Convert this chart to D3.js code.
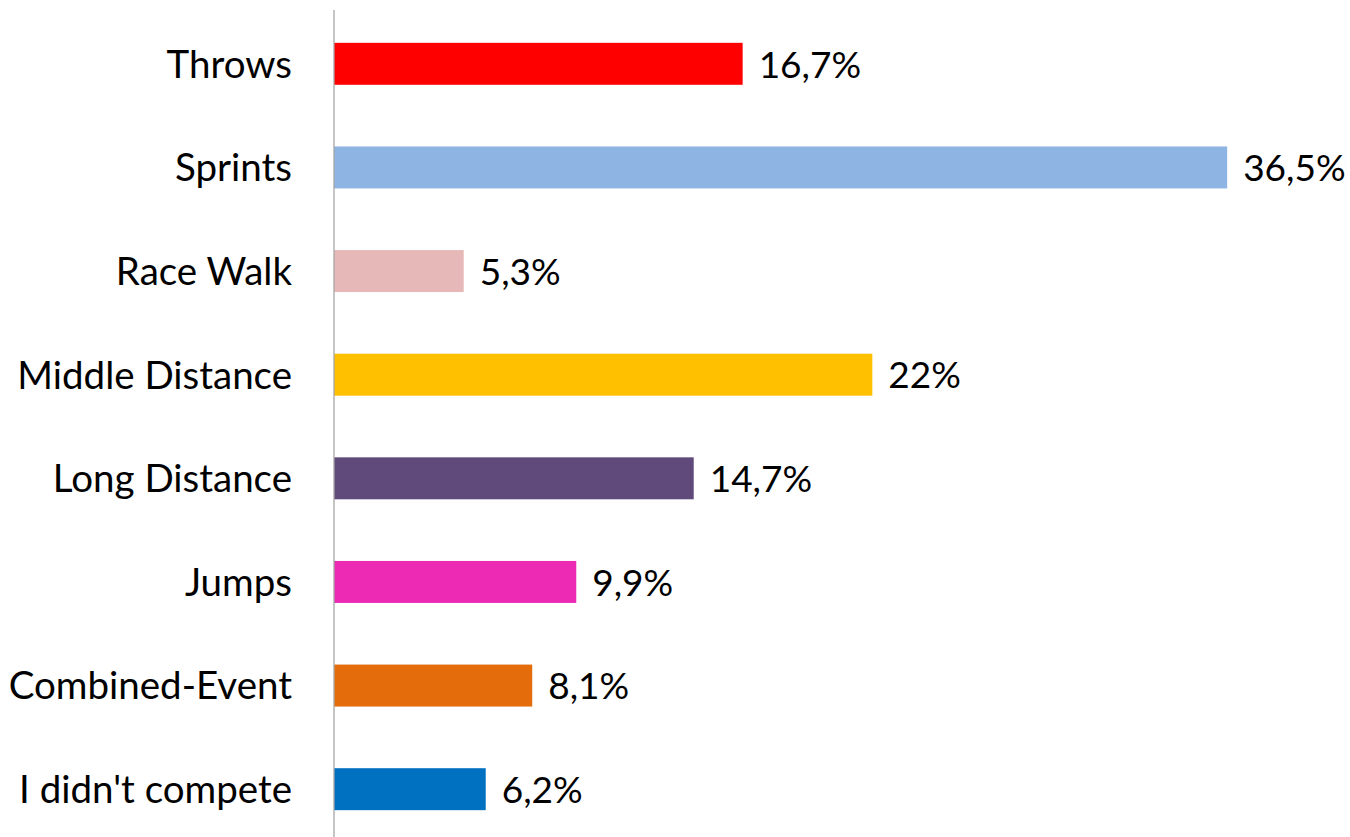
<!DOCTYPE html>
<html>
<head>
<meta charset="utf-8">
<script src="https://cdn.jsdelivr.net/npm/d3@7"></script>
<style>
  html, body { margin: 0; padding: 0; background: #fff; }
  svg { display: block; }
  text { font-family: Lato, "Open Sans", sans-serif; fill: #000; }
</style>
</head>
<body>
<svg id="chart" width="1350" height="837"></svg>
<script>
const categories = ["Throws", "Sprints", "Race Walk", "Middle Distance", "Long Distance", "Jumps", "Combined-Event", "I didn't compete"];
const values = [16.7, 36.5, 5.3, 22, 14.7, 9.9, 8.1, 6.2];
const valueLabels = ["16,7%", "36,5%", "5,3%", "22%", "14,7%", "9,9%", "8,1%", "6,2%"];
const colors = ["#FF0000", "#8EB4E3", "#E6B9B8", "#FFC000", "#604A7B", "#EC2AB4", "#E46C0A", "#0070C0"];

const data = categories.map((c, i) => ({ cat: c, value: values[i], label: valueLabels[i], color: colors[i] }));

const svg = d3.select("#chart");
const x0 = 334;
const x = d3.scaleLinear().domain([0, 40]).range([x0, x0 + 40 * 24.47]);
const y = d3.scaleBand().domain(categories).range([12, 841]).paddingInner(0.595).paddingOuter(0.2975);

const valueFontSize = 37;
const catFontSize = 38.5;

svg.selectAll("rect.bar").data(data).enter().append("rect")
  .attr("class", "bar")
  .attr("x", x(0))
  .attr("y", d => y(d.cat))
  .attr("width", d => x(d.value) - x(0))
  .attr("height", y.bandwidth())
  .attr("fill", d => d.color);

svg.selectAll("text.val").data(data).enter().append("text")
  .attr("class", "val")
  .attr("x", d => x(d.value) + 16)
  .attr("y", d => y(d.cat) + y.bandwidth() / 2)
  .attr("dy", "0.37em")
  .style("font-size", valueFontSize + "px")
  .text(d => d.label);

const yAxis = d3.axisLeft(y).tickSize(0).tickPadding(42);
const g = svg.append("g").attr("transform", `translate(${x0},0)`).call(yAxis);
g.select(".domain").remove();
g.selectAll(".tick text")
  .style("font-size", catFontSize + "px")
  .style("font-family", "Lato, 'Open Sans', sans-serif")
  .attr("fill", "#000")
  .attr("dy", "0.36em");

svg.append("line")
  .attr("x1", x0).attr("x2", x0)
  .attr("y1", 10).attr("y2", 837)
  .attr("stroke", "#A6A6A6")
  .attr("stroke-width", 1.3);
</script>
</body>
</html>
